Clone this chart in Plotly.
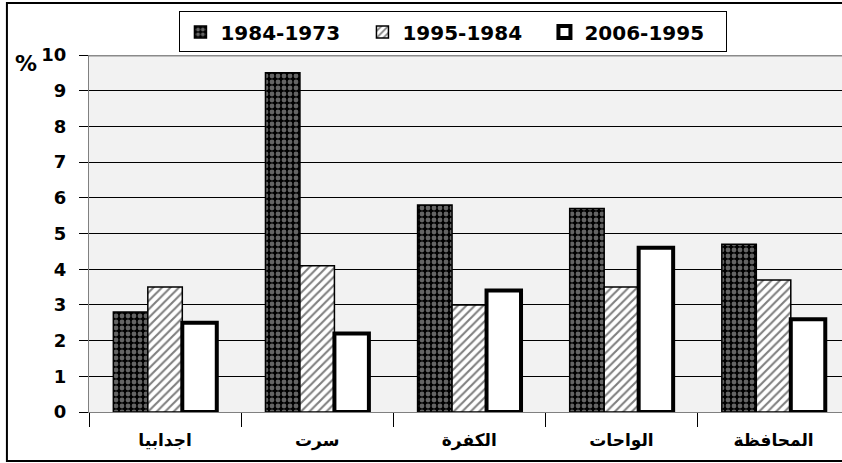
import plotly.graph_objects as go

categories = ["اجدابيا", "سرت", "الكفرة", "الواحات", "المحافظة"]
series_names = ["1984-1973", "1995-1984", "2006-1995"]
s1 = [2.8, 9.5, 5.8, 5.7, 4.7]
s2 = [3.5, 4.1, 3.0, 3.5, 3.7]
s3 = [2.5, 2.2, 3.4, 4.6, 2.6]
y_ticks = list(range(0, 11))
y_ticktext = ["<b>%d</b>" % v for v in y_ticks]
x_ticktext = ["<b>%s</b>" % c for c in categories]

FONT = "DejaVu Sans"

fig = go.Figure()
fig.add_trace(go.Bar(
    x=categories, y=s1, name="<b>%s</b>" % series_names[0],
    marker=dict(color="#000000",
                pattern=dict(shape=".", bgcolor="#000000", fgcolor="#c8c8c8", size=6, solidity=0.5),
                line=dict(color="#000000", width=1.5)),
))
fig.add_trace(go.Bar(
    x=categories, y=s2, name="<b>%s</b>" % series_names[1],
    marker=dict(color="#ffffff",
                pattern=dict(shape="/", bgcolor="#ffffff", fgcolor="#000000", size=6, solidity=0.35),
                line=dict(color="#000000", width=1.5)),
))
fig.add_trace(go.Bar(
    x=categories, y=s3, name="<b>%s</b>" % series_names[2],
    marker=dict(color="#ffffff", line=dict(color="#000000", width=4)),
))

fig.update_layout(
    width=842, height=463,
    margin=dict(l=89, r=0, t=55, b=51, autoexpand=False),
    paper_bgcolor="#ffffff",
    plot_bgcolor="#f2f2f2",
    barmode="group",
    bargap=0.32,
    bargroupgap=0,
    font=dict(family=FONT, color="#000000"),
    showlegend=True,
    legend=dict(
        orientation="h",
        x=0.484, xanchor="center",
        y=1.122, yanchor="top",
        bgcolor="#ffffff",
        bordercolor="#000000", borderwidth=1,
        font=dict(family=FONT, size=20, color="#000000"),
        entrywidth=137,
        traceorder="normal",
    ),
    xaxis=dict(
        range=[-0.5, 4.45],
        tickvals=categories, ticktext=x_ticktext,
        showgrid=False,
        showline=True, linecolor="#808080", linewidth=1,
        ticks="outside", tickson="boundaries", ticklen=14, tickcolor="#000000",
        ticklabelstandoff=13,
        tickfont=dict(family=FONT, size=17, color="#000000"),
        fixedrange=True, automargin=False,
    ),
    yaxis=dict(
        range=[0, 10],
        tickvals=y_ticks, ticktext=y_ticktext,
        showgrid=True, gridcolor="#000000", gridwidth=1,
        zeroline=False,
        showline=True, linecolor="#808080", linewidth=1,
        ticks="outside", ticklen=9, tickcolor="#000000",
        ticklabelstandoff=9,
        tickfont=dict(family=FONT, size=18, color="#000000"),
        fixedrange=True, automargin=False,
    ),
    shapes=[
        dict(type="line", xref="paper", yref="y", x0=0, x1=1, y0=10, y1=10,
             line=dict(color="#8a8a8a", width=3), layer="below"),
        dict(type="rect", xref="paper", yref="paper",
             x0=-0.109, x1=1.01, y0=-0.137, y1=1.146,
             line=dict(color="#000000", width=2), fillcolor="rgba(0,0,0,0)"),
    ],
    annotations=[
        dict(text="<b>%</b>", xref="paper", yref="paper", x=-0.0837, y=0.975,
             showarrow=False, xanchor="center", yanchor="middle",
             font=dict(family=FONT, size=22, color="#000000")),
    ],
)

fig.write_html("out.html", config={"displayModeBar": False},
               post_script="document.body.style.margin='0';document.body.style.overflow='hidden';")
